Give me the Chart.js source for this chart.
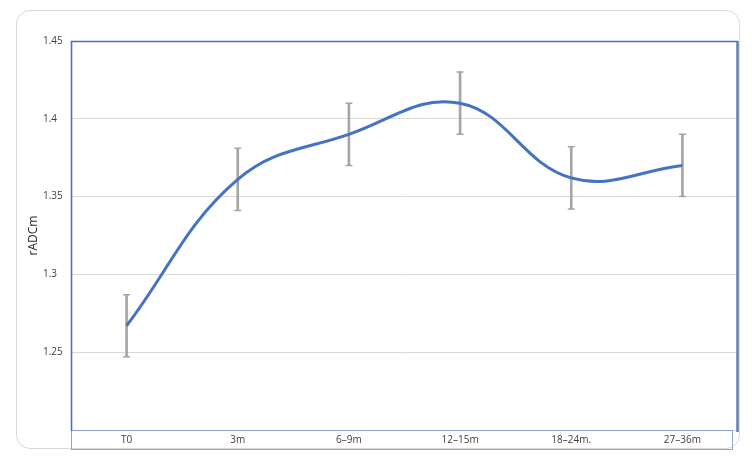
<!DOCTYPE html>
<html>
<head>
<meta charset="utf-8">
<script src="https://cdn.jsdelivr.net/npm/chart.js@4/dist/chart.umd.min.js"></script>
<style>
  html, body { margin: 0; padding: 0; background: #ffffff; }
  #wrap { position: relative; width: 752px; height: 460px; }
  #card { position: absolute; left: 16px; top: 10px; width: 724px; height: 439px;
          border: 1px solid #d9d9d9; border-radius: 14px; box-sizing: border-box; }
  canvas { position: absolute; left: 0; top: 0; }
</style>
</head>
<body>
<div id="wrap">
  <div id="card"></div>
  <canvas id="c" width="752" height="460"></canvas>
</div>
<script>
const categories = ['T0', '3m', '6\u20139m', '12\u201315m', '18\u201324m.', '27\u201336m'];
const meanValues = [1.267, 1.361, 1.390, 1.410, 1.362, 1.370];
const errorValues = [0.020, 0.020, 0.020, 0.020, 0.020, 0.020];
const yTickValues = [1.25, 1.30, 1.35, 1.40, 1.45];
const yTickLabels = ['1.25', '1.3', '1.35', '1.4', '1.45'];
const yAxisTitle = 'rADCm';

const lowValues = meanValues.map((v, i) => v - errorValues[i]);
const highValues = meanValues.map((v, i) => v + errorValues[i]);
const errRanges = meanValues.map((v, i) => [lowValues[i], highValues[i]]);

const FONT = "'Open Sans', 'Liberation Sans', sans-serif";
const BLUE = '#4472C4';
const GREY = '#A5A5A5';

const framePlugin = {
  id: 'frame',
  afterDraw(chart) {
    const ctx = chart.ctx;
    const a = chart.chartArea;
    const xs = chart.scales.x;
    ctx.save();
    ctx.strokeStyle = '#8FA4CC';
    ctx.lineWidth = 1;
    ctx.strokeRect(a.left + 0.5, xs.top + 0.5, (a.right - 6) - a.left, xs.bottom - xs.top - 1);
    ctx.strokeStyle = BLUE;
    ctx.lineWidth = 1.6;
    ctx.beginPath();
    ctx.moveTo(a.left + 0.5, a.bottom + 1);
    ctx.lineTo(a.left + 0.5, a.top + 0.5);
    ctx.lineTo(a.right, a.top + 0.5);
    ctx.stroke();
    ctx.strokeStyle = '#5A78B2';
    ctx.lineWidth = 2.4;
    ctx.beginPath();
    ctx.moveTo(a.right - 0.5, a.top);
    ctx.lineTo(a.right - 0.5, a.bottom + 2);
    ctx.stroke();
    ctx.restore();
  }
};

new Chart(document.getElementById('c'), {
  data: {
    labels: categories,
    datasets: [
      {
        type: 'line',
        label: 'rADCm',
        data: meanValues,
        borderColor: BLUE,
        borderWidth: 3,
        tension: 0.4,
        pointRadius: 0,
        fill: false,
        order: 0
      },
      {
        type: 'bar',
        label: 'error',
        data: errRanges,
        backgroundColor: GREY,
        borderWidth: 0,
        barThickness: 2,
        order: 2
      },
      {
        type: 'line',
        label: 'errLow',
        data: lowValues,
        showLine: false,
        pointStyle: 'line',
        pointRadius: 3.5,
        pointBorderWidth: 1.5,
        pointBorderColor: GREY,
        borderColor: GREY,
        order: 1
      },
      {
        type: 'line',
        label: 'errHigh',
        data: highValues,
        showLine: false,
        pointStyle: 'line',
        pointRadius: 3.5,
        pointBorderWidth: 1.5,
        pointBorderColor: GREY,
        borderColor: GREY,
        order: 1
      }
    ]
  },
  options: {
    responsive: false,
    animation: false,
    devicePixelRatio: 1,
    layout: { padding: { top: 41, bottom: 10, left: 16, right: 14 } },
    plugins: { legend: { display: false }, tooltip: { enabled: false } },
    scales: {
      x: {
        type: 'category',
        offset: true,
        grid: { display: false, drawTicks: false },
        border: { display: false },
        ticks: { color: '#404040', font: { family: FONT, size: 10 }, padding: 4, maxRotation: 0 },
        afterFit(s) { s.height = 20; }
      },
      y: {
        type: 'linear',
        position: 'left',
        weight: 0,
        min: 1.2,
        max: 1.45,
        afterBuildTicks(s) { s.ticks = [1.2].concat(yTickValues).map(v => ({ value: v })); },
        grid: { color: '#D9D9D9', lineWidth: 1, drawTicks: false },
        border: { display: false },
        ticks: {
          color: '#404040',
          font: { family: FONT, size: 10 },
          crossAlign: 'far',
          padding: 0,
          callback(v) {
            const i = yTickValues.findIndex(t => Math.abs(t - v) < 1e-6);
            return i >= 0 ? yTickLabels[i] : '';
          }
        },
        afterFit(s) { s.width = 28; }
      },
      yTitle: {
        type: 'linear',
        position: 'left',
        weight: 1,
        grid: { display: false, drawTicks: false },
        border: { display: false },
        ticks: { display: false },
        title: { display: true, text: yAxisTitle, color: '#262626', font: { family: FONT, size: 12 }, padding: { top: 10, bottom: 0 } },
        afterFit(s) { s.width = 27; }
      }
    }
  },
  plugins: [framePlugin]
});
</script>
</body>
</html>
